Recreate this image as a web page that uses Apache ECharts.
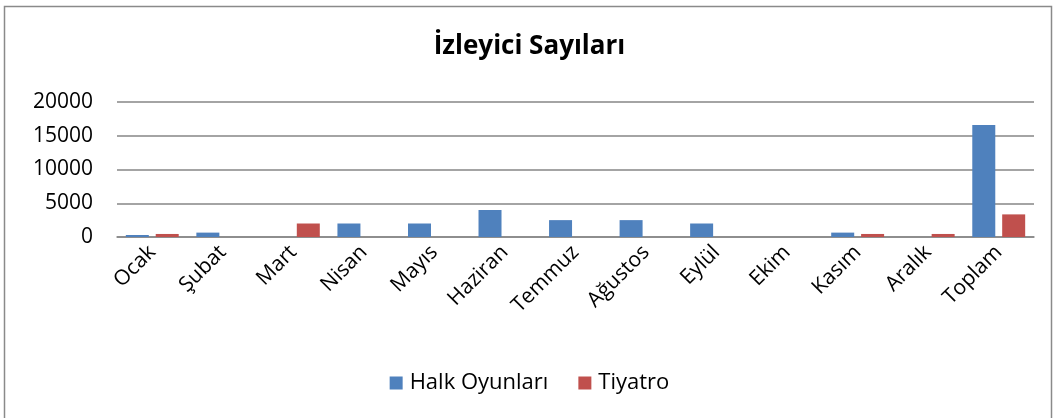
<!DOCTYPE html>
<html>
<head>
<meta charset="utf-8">
<script src="https://cdn.jsdelivr.net/npm/echarts@6/dist/echarts.min.js"></script>
<style>html,body{margin:0;padding:0;background:#fff}#c{width:1059px;height:418px}</style>
</head>
<body>
<div id="c"></div>
<script>
const categories = ['Ocak','Şubat','Mart','Nisan','Mayıs','Haziran','Temmuz','Ağustos','Eylül','Ekim','Kasım','Aralık','Toplam'];
const halkOyunlari = [300, 650, 0, 2000, 2000, 4000, 2500, 2500, 2000, 0, 650, 0, 16600];
const tiyatro = [450, 0, 2000, 0, 0, 0, 0, 0, 0, 0, 450, 450, 3350];
const yTicks = [0, 5000, 10000, 15000, 20000];

const font = '"Open Sans", "Noto Sans", sans-serif';
const chart = echarts.init(document.getElementById('c'), null, {renderer: 'canvas'});
chart.setOption({
  animation: false,
  backgroundColor: '#fff',
  graphic: [{
    type: 'rect', silent: true, z: -1,
    shape: {x: 4.5, y: 6.5, width: 1047, height: 430},
    style: {fill: 'none', stroke: '#8a8a8a', lineWidth: 1.5}
  }],
  title: {
    text: 'İzleyici Sayıları', left: 'center', top: 29,
    textStyle: {fontFamily: font, fontSize: 26, fontWeight: 'bold', color: '#000'}
  },
  legend: {
    bottom: 19, left: 'center', itemWidth: 13, itemHeight: 13, itemGap: 30,
    icon: 'rect',
    textStyle: {fontFamily: font, fontSize: 22, color: '#000', padding: [0, 0, 0, 2]},
    data: ['Halk Oyunları', 'Tiyatro']
  },
  grid: {left: 117, right: 25, top: 102, bottom: 181, containLabel: false},
  xAxis: {
    type: 'category', data: categories,
    axisLine: {lineStyle: {color: '#868686', width: 1.5}},
    axisTick: {show: false},
    axisLabel: {rotate: 45, fontFamily: font, fontSize: 21, color: '#000', margin: 12, interval: 0}
  },
  yAxis: {
    type: 'value', min: yTicks[0], max: yTicks[yTicks.length - 1], interval: 5000,
    axisLine: {show: false}, axisTick: {show: false},
    axisLabel: {fontFamily: font, fontSize: 21, color: '#000', margin: 24, formatter: v => String(v)},
    splitLine: {lineStyle: {color: '#868686', width: 1.5}}
  },
  series: [
    {name: 'Halk Oyunları', type: 'bar', data: halkOyunlari, barWidth: 23, barGap: '30%',
     itemStyle: {color: '#4F81BD'}},
    {name: 'Tiyatro', type: 'bar', data: tiyatro, barWidth: 23,
     itemStyle: {color: '#C0504D'}}
  ]
});
</script>
</body>
</html>
